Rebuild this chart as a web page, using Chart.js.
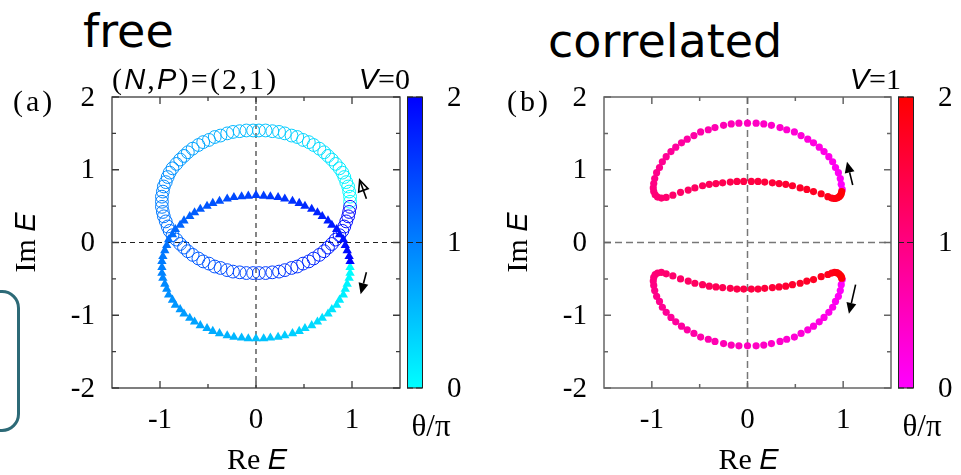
<!DOCTYPE html>
<html>
<head>
<meta charset="utf-8">
<script src="https://cdn.jsdelivr.net/npm/chart.js@4.4.1/dist/chart.umd.min.js"></script>
<style>
  body { margin: 0; width: 961px; height: 475px; overflow: hidden; background: #fff; position: relative; }
  .panel { position: absolute; top: 0; height: 475px; }
  #panelA { left: 0; width: 480px; }
  #panelB { left: 480px; width: 481px; }
  .heading { position: absolute; font-family: 'DejaVu Sans', sans-serif; font-size: 46px; line-height: 46px; color: #000; }
  .bracket { position: absolute; left: -30px; top: 290px; width: 44px; height: 136px; border: 3px solid #2d6a77; border-radius: 18px; }
</style>
</head>
<body>
<div class="heading" style="left:83px; top:8px">free</div>
<div class="heading" style="left:548px; top:18px">correlated</div>
<div class="bracket"></div>
<div class="panel" id="panelA"><canvas id="chartFree"></canvas></div>
<div class="panel" id="panelB"><canvas id="chartCorr"></canvas></div>
<script>
// spectra in the complex plane, points listed in order of theta (theta/pi from 0 to 2)
// V=0, open circles
const freeRings = [
  [0.98,0.56],[0.98,0.63],[0.97,0.70],[0.96,0.77],[0.94,0.83],[0.92,0.90],[0.90,0.96],[0.87,1.02],[0.83,1.08],[0.79,1.14],
  [0.75,1.19],[0.71,1.24],[0.66,1.29],[0.60,1.34],[0.55,1.38],[0.49,1.41],[0.43,1.45],[0.37,1.47],[0.30,1.50],[0.24,1.52],
  [0.17,1.53],[0.10,1.54],[0.03,1.54],[-0.03,1.54],[-0.10,1.54],[-0.17,1.53],[-0.24,1.52],[-0.30,1.50],[-0.37,1.47],[-0.43,1.45],
  [-0.49,1.41],[-0.55,1.38],[-0.60,1.34],[-0.66,1.29],[-0.71,1.24],[-0.75,1.19],[-0.79,1.14],[-0.83,1.08],[-0.87,1.02],[-0.90,0.96],
  [-0.92,0.90],[-0.94,0.83],[-0.96,0.77],[-0.97,0.70],[-0.98,0.63],[-0.98,0.56],[-0.98,0.49],[-0.97,0.42],[-0.96,0.36],[-0.94,0.29],
  [-0.92,0.22],[-0.90,0.16],[-0.87,0.10],[-0.83,0.04],[-0.79,-0.02],[-0.75,-0.07],[-0.71,-0.12],[-0.66,-0.17],[-0.60,-0.22],[-0.55,-0.26],
  [-0.49,-0.29],[-0.43,-0.33],[-0.37,-0.35],[-0.30,-0.38],[-0.24,-0.40],[-0.17,-0.41],[-0.10,-0.42],[-0.03,-0.42],[0.03,-0.42],[0.10,-0.42],
  [0.17,-0.41],[0.24,-0.40],[0.30,-0.38],[0.37,-0.35],[0.43,-0.33],[0.49,-0.29],[0.55,-0.26],[0.60,-0.22],[0.66,-0.17],[0.71,-0.12],
  [0.75,-0.07],[0.79,-0.02],[0.83,0.04],[0.87,0.10],[0.90,0.16],[0.92,0.22],[0.94,0.29],[0.96,0.36],[0.97,0.42],[0.98,0.49]
];
// V=0, filled triangles
const freeTriangles = [
  [0.98,-0.34],[0.98,-0.42],[0.97,-0.49],[0.95,-0.57],[0.93,-0.64],[0.91,-0.72],[0.87,-0.79],[0.84,-0.86],[0.79,-0.92],[0.75,-0.98],
  [0.69,-1.04],[0.64,-1.09],[0.58,-1.14],[0.51,-1.18],[0.45,-1.22],[0.38,-1.25],[0.30,-1.28],[0.23,-1.30],[0.15,-1.31],[0.08,-1.32],
  [0.00,-1.32],[-0.08,-1.32],[-0.15,-1.31],[-0.23,-1.30],[-0.30,-1.28],[-0.38,-1.25],[-0.45,-1.22],[-0.51,-1.18],[-0.58,-1.14],[-0.64,-1.09],
  [-0.69,-1.04],[-0.75,-0.98],[-0.79,-0.92],[-0.84,-0.86],[-0.87,-0.79],[-0.91,-0.72],[-0.93,-0.64],[-0.95,-0.57],[-0.97,-0.49],[-0.98,-0.42],
  [-0.98,-0.34],[-0.98,-0.26],[-0.97,-0.19],[-0.95,-0.11],[-0.93,-0.04],[-0.91,0.04],[-0.87,0.11],[-0.84,0.18],[-0.79,0.24],[-0.75,0.30],
  [-0.69,0.36],[-0.64,0.41],[-0.58,0.46],[-0.51,0.50],[-0.45,0.54],[-0.38,0.57],[-0.30,0.60],[-0.23,0.62],[-0.15,0.63],[-0.08,0.64],
  [0.00,0.65],[0.08,0.64],[0.15,0.63],[0.23,0.62],[0.30,0.60],[0.38,0.57],[0.45,0.54],[0.51,0.50],[0.58,0.46],[0.64,0.41],
  [0.69,0.36],[0.75,0.30],[0.79,0.24],[0.84,0.18],[0.87,0.11],[0.91,0.04],[0.93,-0.04],[0.95,-0.11],[0.97,-0.19],[0.98,-0.26]
];
// V=1, upper loop
const corrUpper = [
  [0.99,0.73],[0.98,0.80],[0.97,0.88],[0.95,0.96],[0.92,1.03],[0.89,1.11],[0.85,1.18],[0.80,1.25],[0.75,1.31],[0.69,1.37],
  [0.63,1.42],[0.56,1.47],[0.49,1.52],[0.41,1.55],[0.34,1.58],[0.25,1.61],[0.17,1.63],[0.09,1.64],[0.00,1.64],[-0.09,1.64],
  [-0.17,1.63],[-0.25,1.61],[-0.34,1.58],[-0.41,1.55],[-0.49,1.52],[-0.56,1.47],[-0.63,1.42],[-0.69,1.37],[-0.75,1.31],[-0.80,1.25],
  [-0.85,1.18],[-0.89,1.11],[-0.92,1.03],[-0.95,0.96],[-0.97,0.88],[-0.98,0.81],[-0.985,0.75],[-0.98,0.70],[-0.965,0.655],[-0.94,0.625],
  [-0.90,0.61],[-0.85,0.62],[-0.78,0.65],[-0.70,0.69],[-0.62,0.72],[-0.55,0.75],[-0.47,0.78],[-0.40,0.80],[-0.33,0.81],[-0.26,0.82],
  [-0.18,0.83],[-0.11,0.84],[-0.04,0.84],[0.04,0.84],[0.11,0.84],[0.18,0.83],[0.26,0.82],[0.33,0.81],[0.40,0.80],[0.47,0.78],
  [0.55,0.75],[0.62,0.73],[0.69,0.70],[0.77,0.67],[0.84,0.63],[0.88,0.61],[0.91,0.605],[0.935,0.61],[0.955,0.625],[0.97,0.645],
  [0.98,0.67],[0.985,0.70]
];
// V=1, lower loop
const corrLower = [
  [0.99,-0.51],[0.98,-0.58],[0.97,-0.66],[0.95,-0.74],[0.92,-0.81],[0.89,-0.89],[0.85,-0.96],[0.80,-1.03],[0.75,-1.09],[0.69,-1.15],
  [0.63,-1.20],[0.56,-1.25],[0.49,-1.30],[0.41,-1.33],[0.34,-1.36],[0.25,-1.39],[0.17,-1.41],[0.09,-1.42],[0.00,-1.42],[-0.09,-1.42],
  [-0.17,-1.41],[-0.25,-1.39],[-0.34,-1.36],[-0.41,-1.33],[-0.49,-1.30],[-0.56,-1.25],[-0.63,-1.20],[-0.69,-1.15],[-0.75,-1.09],[-0.80,-1.03],
  [-0.85,-0.96],[-0.89,-0.89],[-0.92,-0.81],[-0.95,-0.74],[-0.97,-0.66],[-0.98,-0.59],[-0.985,-0.53],[-0.98,-0.48],[-0.965,-0.44],[-0.94,-0.42],
  [-0.90,-0.41],[-0.85,-0.43],[-0.78,-0.46],[-0.70,-0.50],[-0.62,-0.53],[-0.55,-0.56],[-0.47,-0.58],[-0.40,-0.60],[-0.33,-0.61],[-0.26,-0.62],
  [-0.18,-0.63],[-0.11,-0.64],[-0.04,-0.64],[0.04,-0.64],[0.11,-0.64],[0.18,-0.63],[0.26,-0.62],[0.33,-0.61],[0.40,-0.60],[0.47,-0.58],
  [0.55,-0.56],[0.62,-0.53],[0.69,-0.51],[0.77,-0.47],[0.84,-0.44],[0.88,-0.42],[0.91,-0.41],[0.935,-0.415],[0.955,-0.43],[0.97,-0.45],
  [0.98,-0.47],[0.985,-0.49]
];

const reTicks = [-1, 0, 1];
const imTicks = [-2, -1, 0, 1, 2];
const reMinor = [-0.5, 0.5];
const imMinor = [-1.5, -0.5, 0.5, 1.5];
const thetaTicks = [0, 1, 2];

// direction of increasing theta: [fromRe, fromIm, toRe, toIm]
const freeArrows = [[1.15, 0.60, 1.08, 0.86], [1.15, -0.41, 1.09, -0.71]];
const corrArrows = [[1.10, 0.79, 1.04, 1.11], [1.13, -0.58, 1.06, -0.98]];

const SERIF = "'Liberation Serif', 'Times New Roman', serif";
const SANS = "'Liberation Sans', Arial, sans-serif";
const ROMAN = "30px " + SERIF;
const ITALIC = "italic 29px " + SANS;
const TICK = "29px " + SERIF;

// colour maps for theta/pi in [0, 2]
const cyanBlue = t => `rgb(0,${Math.round(255 * (1 - t / 2))},255)`;
const magentaRed = t => `rgb(255,0,${Math.round(255 * (1 - t / 2))})`;

const toXY = pts => pts.map(([x, y]) => ({ x, y }));
const byTheta = (pts, cmap) => ctx => cmap(2 * ctx.dataIndex / pts.length);

// mixed roman/italic text, drawn glyph by glyph so extra tracking can be added
function richText(ctx, parts, x, y, align, track = 0) {
    const glyphs = [];
    parts.forEach(([t, f]) => { for (const ch of t) glyphs.push([ch, f]); });
    let w = 0;
    glyphs.forEach(([ch, f]) => { ctx.font = f; w += ctx.measureText(ch).width + track; });
    w -= track;
    let cx = align === 'center' ? x - w / 2 : align === 'right' ? x - w : x;
    ctx.textAlign = 'left';
    glyphs.forEach(([ch, f]) => { ctx.font = f; ctx.fillText(ch, cx, y); cx += ctx.measureText(ch).width + track; });
}

function drawArrow(ctx, x1, y1, x2, y2, open) {
    const ang = Math.atan2(y2 - y1, x2 - x1);
    const hl = 11, hw = 5;
    const bx = x2 - hl * Math.cos(ang), by = y2 - hl * Math.sin(ang);
    const px = -Math.sin(ang) * hw, py = Math.cos(ang) * hw;
    ctx.beginPath();
    ctx.moveTo(x1, y1);
    ctx.lineTo(open ? x2 : bx, open ? y2 : by);
    ctx.stroke();
    ctx.beginPath();
    ctx.moveTo(x2, y2);
    ctx.lineTo(bx + px, by + py);
    ctx.lineTo(bx - px, by - py);
    ctx.closePath();
    if (open) ctx.stroke(); else ctx.fill();
}

// frame, inward ticks, zero lines, colour bar, labels and arrows
function panelDecor(o) {
    return {
        id: 'panelDecor',
        beforeDatasetsDraw(chart) {
            const { ctx, chartArea: a, scales: { x, y } } = chart;
            const x0 = x.getPixelForValue(0), y0 = y.getPixelForValue(0);
            ctx.save();
            ctx.strokeStyle = o.dashColor;
            ctx.lineWidth = o.dashWidth;
            ctx.setLineDash(o.dash);
            ctx.beginPath();
            ctx.moveTo(x0, a.top); ctx.lineTo(x0, a.bottom);
            ctx.moveTo(a.left, y0); ctx.lineTo(a.right, y0);
            ctx.stroke();
            ctx.restore();
        },
        afterDatasetsDraw(chart) {
            const { ctx, chartArea: a, scales: { x, y, cb } } = chart;
            ctx.save();

            // frame and tick marks
            ctx.strokeStyle = o.frameColor;
            ctx.lineWidth = o.frameWidth;
            ctx.strokeRect(a.left, a.top, a.right - a.left, a.bottom - a.top);
            ctx.beginPath();
            const xt = (v, len) => {
                const p = x.getPixelForValue(v);
                ctx.moveTo(p, a.bottom); ctx.lineTo(p, a.bottom - len);
                ctx.moveTo(p, a.top); ctx.lineTo(p, a.top + len);
            };
            const yt = (v, len) => {
                const p = y.getPixelForValue(v);
                ctx.moveTo(a.left, p); ctx.lineTo(a.left + len, p);
                ctx.moveTo(a.right, p); ctx.lineTo(a.right - len, p);
            };
            reTicks.forEach(v => xt(v, 7));
            reMinor.forEach(v => xt(v, 4));
            imTicks.forEach(v => yt(v, 7));
            imMinor.forEach(v => yt(v, 4));
            ctx.stroke();

            // colour bar
            const bl = a.right + 7, bw = 15;
            const bt = cb.getPixelForValue(2), bb = cb.getPixelForValue(0);
            const g = ctx.createLinearGradient(0, bb, 0, bt);
            g.addColorStop(0, o.cmap(0));
            g.addColorStop(0.5, o.cmap(1));
            g.addColorStop(1, o.cmap(2));
            ctx.fillStyle = g;
            ctx.fillRect(bl, bt, bw, bb - bt);
            ctx.strokeStyle = '#222';
            ctx.lineWidth = 1;
            ctx.strokeRect(bl + 0.5, bt, bw, bb - bt);
            ctx.beginPath();
            thetaTicks.forEach(v => {
                const p = cb.getPixelForValue(v);
                ctx.moveTo(bl, p); ctx.lineTo(bl + 6, p);
                ctx.moveTo(bl + bw, p); ctx.lineTo(bl + bw - 6, p);
            });
            ctx.stroke();

            // tick labels
            ctx.fillStyle = '#000';
            ctx.font = TICK;
            ctx.textBaseline = 'middle';
            ctx.textAlign = 'right';
            imTicks.forEach(v => ctx.fillText(String(v), a.left - 17, y.getPixelForValue(v) + 1));
            ctx.textAlign = 'center';
            reTicks.forEach(v => ctx.fillText(String(v), x.getPixelForValue(v), a.bottom + 32));
            ctx.textAlign = 'left';
            thetaTicks.forEach(v => ctx.fillText(String(v), a.right + 47, cb.getPixelForValue(v) + 1));

            // titles and labels
            ctx.textBaseline = 'alphabetic';
            richText(ctx, [[o.tag, ROMAN]], a.left - o.tagOffset, a.top + 14, 'left', 3);
            if (o.size) {
                richText(ctx, [['(', ROMAN], ['N', ITALIC], [',', ROMAN], ['P', ITALIC], [')=(2,1)', ROMAN]],
                    a.left, a.top - 8, 'left', 2.2);
            }
            richText(ctx, [['V', ITALIC], ['=' + o.v, ROMAN]], a.right + 10, a.top - 8, 'right');
            richText(ctx, [['Re ', ROMAN], ['E', ITALIC]], x.getPixelForValue(0) + 1, a.bottom + 81, 'center');
            richText(ctx, [['\u03b8/\u03c0', "31px " + SERIF]], a.right + 31, a.bottom + 48, 'center');
            ctx.save();
            ctx.translate(a.left - 85, (a.top + a.bottom) / 2);
            ctx.rotate(-Math.PI / 2);
            ctx.textBaseline = 'middle';
            richText(ctx, [['Im ', ROMAN], ['E', ITALIC]], 0, 0, 'center');
            ctx.restore();

            // arrows
            ctx.strokeStyle = '#000';
            ctx.fillStyle = '#000';
            ctx.lineWidth = 1.6;
            o.arrows.forEach(([r1, i1, r2, i2], k) => {
                drawArrow(ctx, x.getPixelForValue(r1), y.getPixelForValue(i1),
                    x.getPixelForValue(r2), y.getPixelForValue(i2), o.openFirst && k === 0);
            });
            ctx.restore();
        }
    };
}

function scalesFor(leftW, rightW) {
    const fixTicks = list => s => { s.ticks = list.map(v => ({ value: v })); };
    const common = { grid: { display: false }, border: { display: false }, ticks: { display: false } };
    return {
        x: { ...common, type: 'linear', min: -1.5, max: 1.5, afterBuildTicks: fixTicks(reTicks), afterFit: s => { s.height = 87; } },
        y: { ...common, type: 'linear', position: 'left', min: -2, max: 2, afterBuildTicks: fixTicks(imTicks), afterFit: s => { s.width = leftW; } },
        cb: { ...common, type: 'linear', position: 'right', min: 0, max: 2, afterBuildTicks: fixTicks(thetaTicks), afterFit: s => { s.width = rightW; } }
    };
}

function makeChart(id, datasets, decor, leftW, rightW) {
    return new Chart(document.getElementById(id), {
        type: 'scatter',
        data: { datasets },
        options: {
            responsive: true,
            maintainAspectRatio: false,
            animation: false,
            events: [],
            layout: { padding: { top: 97, left: 0, right: 0, bottom: 0 } },
            plugins: { legend: { display: false }, tooltip: { enabled: false } },
            scales: scalesFor(leftW, rightW)
        },
        plugins: [decor]
    });
}

// (a) free
makeChart('chartFree', [
    {
        label: 'triangles',
        data: toXY(freeTriangles),
        pointStyle: 'triangle',
        pointRadius: 5.4,
        borderWidth: 0,
        backgroundColor: byTheta(freeTriangles, cyanBlue),
        borderColor: byTheta(freeTriangles, cyanBlue)
    },
    {
        label: 'circles',
        data: toXY(freeRings),
        pointStyle: 'circle',
        pointRadius: 6.4,
        borderWidth: 1,
        backgroundColor: 'rgba(0,0,0,0)',
        borderColor: byTheta(freeRings, cyanBlue)
    }
], panelDecor({
    tag: '(a)', tagOffset: 99, size: true, v: 0, cmap: cyanBlue,
    frameColor: '#3a3a3a', frameWidth: 1.3,
    dashColor: '#222', dashWidth: 1.1, dash: [5, 4],
    arrows: freeArrows, openFirst: true
}), 112, 80);

// (b) correlated
makeChart('chartCorr', [
    {
        label: 'upper',
        data: toXY(corrUpper),
        pointStyle: 'circle',
        pointRadius: 3.6,
        borderWidth: 0,
        backgroundColor: byTheta(corrUpper, magentaRed)
    },
    {
        label: 'lower',
        data: toXY(corrLower),
        pointStyle: 'circle',
        pointRadius: 3.6,
        borderWidth: 0,
        backgroundColor: byTheta(corrLower, magentaRed)
    }
], panelDecor({
    tag: '(b)', tagOffset: 97, size: false, v: 1, cmap: magentaRed,
    frameColor: '#666', frameWidth: 1.5,
    dashColor: '#777', dashWidth: 1.5, dash: [7, 4],
    arrows: corrArrows, openFirst: false
}), 124, 70);
</script>
</body>
</html>
